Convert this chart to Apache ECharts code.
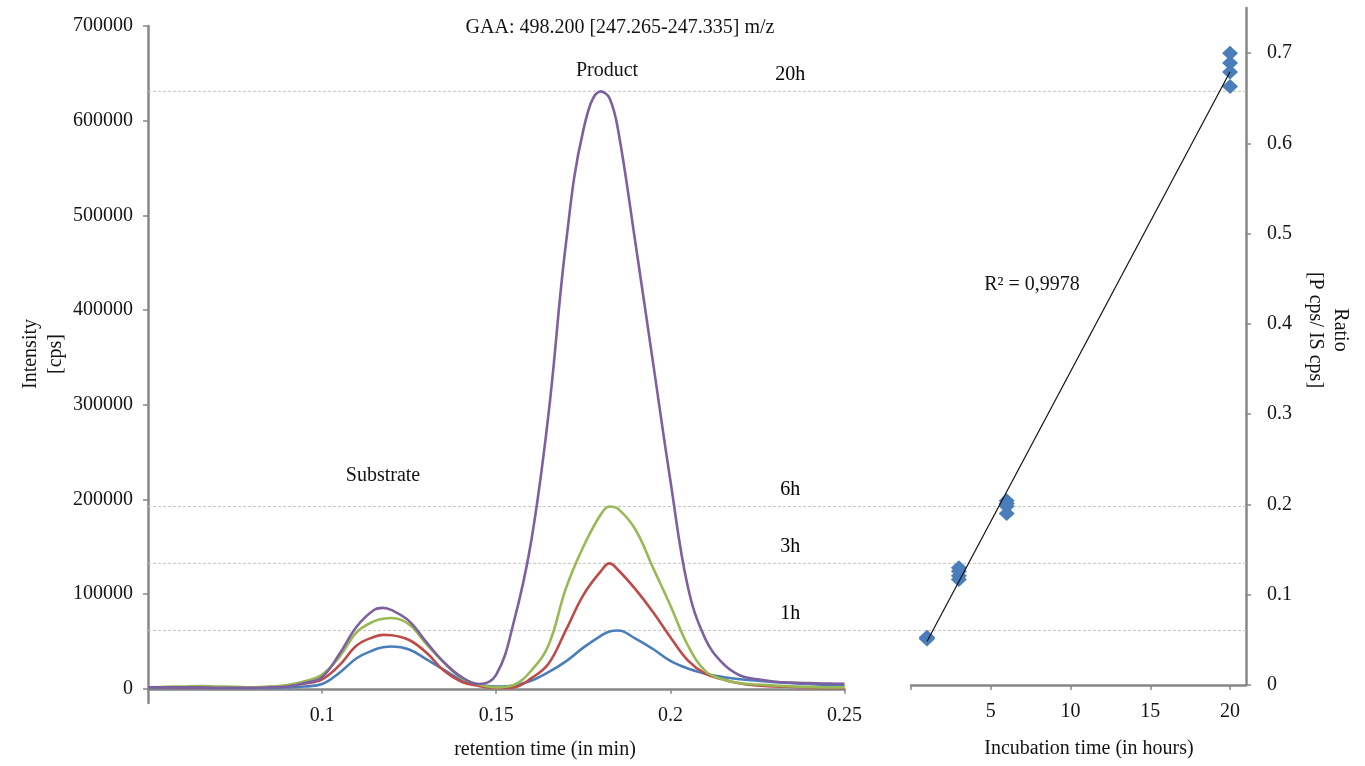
<!DOCTYPE html>
<html><head><meta charset="utf-8">
<script src="https://cdn.jsdelivr.net/npm/echarts@6/dist/echarts.min.js"></script>
<style>html,body{margin:0;padding:0;background:#fff}#c{width:1365px;height:766px}</style>
</head><body><div id="c"></div>
<script>
// ---- Chromatogram data (retention time in min, intensity in cps) ----
const retentionTime = [0.05,0.055,0.06,0.065,0.07,0.075,0.08,0.085,0.09,0.095,0.1,0.105,0.11,0.115,0.1175,0.12,0.125,0.13,0.135,0.14,0.145,0.15,0.155,0.16,0.165,0.17,0.175,0.18,0.1825,0.185,0.19,0.195,0.2,0.205,0.21,0.215,0.22,0.225,0.23,0.235,0.24,0.245,0.25];
const intensity1h  = [1000,1000,1000,1000,1000,1000,1000,1000,1500,2500,5000,17000,32500,41200,43800,44600,41500,31000,20000,9500,4500,2500,3500,8500,17500,29000,43500,56000,60500,61500,53000,42000,29500,21500,16000,12500,10000,8500,7000,6000,5000,4000,3500];
const intensity3h  = [1500,1500,1500,1500,1500,1500,1500,2000,3000,5500,10000,25000,46000,55000,57000,56500,51500,38000,19000,7500,3000,1000,1500,11000,26500,62000,99000,124000,132500,125500,105000,81000,54500,30000,16000,10000,5500,3500,2500,2000,1500,1000,1000];
const intensity6h  = [1500,2000,2500,3000,2500,2000,1500,2000,4000,8000,15000,34000,60000,71500,74000,74700,68000,47000,27500,11500,4500,1500,4000,19000,46000,106000,150000,184000,192500,190000,168000,128000,88000,46000,19000,10000,6000,4500,3500,2500,2000,1500,1500];
const intensity20h = [1500,1500,1500,1500,1000,1000,1000,1500,2500,6000,12500,37000,66000,83500,85500,83000,71500,49000,28000,12500,5000,15000,70000,155000,290000,470000,590000,631000,624000,590000,470000,345000,220000,108000,53000,27000,14000,10000,7500,6500,6000,5500,5300];
const curveNames = ['1h','3h','6h','20h'];
const leftXTicks = [0.1,0.15,0.2,0.25];
const leftYTicks = [0,100000,200000,300000,400000,500000,600000,700000];

// ---- Ratio vs incubation time ----
const incubationHours = [1,1,1,1,3,3,3,3,6,6,6,6,20,20,20,20];
const ratioValues     = [0.052,0.053,0.051,0.052,0.130,0.126,0.121,0.117,0.204,0.201,0.198,0.190,0.700,0.689,0.679,0.663];
const rightXTicks = [0,5,10,15,20];
const rightXLabels = [5,10,15,20];
const rightYTicks = [0,0.1,0.2,0.3,0.4,0.5,0.6,0.7];
const rSquaredText = 'R² = 0,9978';

const FONT = 'Liberation Serif';
const TXT = '#141414';
const AX = '#878787';
const colors = ['#4A7EBB','#BE4B48','#98B954','#7D60A0'];
const curves = [intensity1h, intensity3h, intensity6h, intensity20h];

// least squares trend line
const n = incubationHours.length;
const mx = incubationHours.reduce((a,b)=>a+b,0)/n;
const my = ratioValues.reduce((a,b)=>a+b,0)/n;
let sxy=0, sxx=0;
for (let i=0;i<n;i++){ sxy += (incubationHours[i]-mx)*(ratioValues[i]-my); sxx += (incubationHours[i]-mx)**2; }
const slope = sxy/sxx, icpt = my - slope*mx;
const xMin = Math.min(...incubationHours), xMax = Math.max(...incubationHours);

const peaks = curves.map(c => Math.max(...c));

const axisLabelStyle = {fontFamily: FONT, fontSize: 20, color: TXT};

const series = [];
// reference dashed lines at each peak height (overlay grid)
curves.forEach((c, i) => {
  series.push({
    type: 'line', xAxisIndex: 2, yAxisIndex: 2, silent: true, symbol: 'none', z: 1,
    data: [[0, peaks[i]], [1, peaks[i]]],
    lineStyle: {color: '#c4c4c4', width: 1, type: [3, 2]}
  });
  series.push({
    type: 'scatter', xAxisIndex: 2, yAxisIndex: 2, silent: true, symbolSize: 1, z: 5,
    itemStyle: {color: 'rgba(0,0,0,0)', opacity: 1},
    data: [[0.585, peaks[i]]],
    label: {show: true, position: 'top', distance: 6, formatter: curveNames[i], fontFamily: FONT, fontSize: 20, color: '#000', opacity: 1}
  });
});
curves.forEach((c, i) => {
  series.push({
    type: 'line', xAxisIndex: 0, yAxisIndex: 0, name: curveNames[i], symbol: 'none', smooth: 0.4, z: 3 + i,
    data: retentionTime.map((t, k) => [t, c[k]]),
    lineStyle: {color: colors[i], width: 2.6}
  });
});
series.push({
  type: 'line', xAxisIndex: 1, yAxisIndex: 1, symbol: 'none', z: 6,
  data: [[xMin, icpt + slope*xMin], [xMax, icpt + slope*xMax]],
  lineStyle: {color: '#111', width: 1.2}
});
series.push({
  type: 'scatter', xAxisIndex: 1, yAxisIndex: 1, symbol: 'diamond', symbolSize: [16, 15], z: 5,
  data: incubationHours.map((h, i) => [h, ratioValues[i]]),
  itemStyle: {color: '#4A7EBB', opacity: 1}
});

function txt(text, x, y, rot, extra) {
  return Object.assign({
    type: 'text', x: x, y: y, rotation: rot || 0, z: 100,
    style: {text: text, fill: TXT, font: '20px "' + FONT + '"', textAlign: 'center', align: 'center', textVerticalAlign: 'middle', verticalAlign: 'middle', lineHeight: 25}
  }, extra || {});
}

const plain = v => String(v);

const option = {
  animation: false,
  backgroundColor: '#fff',
  grid: [
    {left: 148, right: 520.5, top: 26, bottom: 63},
    {left: 911, right: 119, top: 8, bottom: 81},
    {left: 148, right: 119, top: 26, bottom: 63}
  ],
  xAxis: [
    {gridIndex: 0, type: 'value', min: 0.05, max: 0.25,
     axisLine: {onZero: true, lineStyle: {color: AX, width: 2.5}},
     axisTick: {customValues: leftXTicks, length: 5, lineStyle: {color: AX, width: 1.5}},
     axisLabel: Object.assign({customValues: leftXTicks, margin: 3, formatter: plain}, axisLabelStyle),
     splitLine: {show: false}},
    {gridIndex: 1, type: 'value', min: 0, max: 21,
     axisLine: {lineStyle: {color: AX, width: 2.5}},
     axisTick: {customValues: rightXTicks, length: 5, lineStyle: {color: AX, width: 1.5}},
     axisLabel: Object.assign({customValues: rightXLabels, margin: 17, formatter: plain}, axisLabelStyle),
     splitLine: {show: false}},
    {gridIndex: 2, type: 'value', min: 0, max: 1, show: false}
  ],
  yAxis: [
    {gridIndex: 0, type: 'value', min: -15000, max: 700000,
     axisLine: {show: true, onZero: false, lineStyle: {color: AX, width: 2.5}},
     axisTick: {show: true, customValues: leftYTicks, length: 5, lineStyle: {color: AX, width: 1.5}},
     axisLabel: Object.assign({customValues: leftYTicks, margin: 15, formatter: plain}, axisLabelStyle),
     splitLine: {show: false}},
    {gridIndex: 1, type: 'value', position: 'right', min: 0, max: 0.75,
     axisLine: {show: true, onZero: false, lineStyle: {color: AX, width: 2.5}},
     axisTick: {show: true, customValues: rightYTicks, length: 5, lineStyle: {color: AX, width: 1.5}},
     axisLabel: Object.assign({customValues: rightYTicks, margin: 21, formatter: plain}, axisLabelStyle),
     splitLine: {show: false}},
    {gridIndex: 2, type: 'value', min: -15000, max: 700000, show: false}
  ],
  graphic: [
    txt('GAA: 498.200 [247.265-247.335] m/z', 620, 28),
    txt('Product', 607, 71),
    txt('Substrate', 383, 476),
    txt(rSquaredText, 1032, 285),
    txt('retention time (in min)', 545, 750),
    txt('Incubation time (in hours)', 1089, 749),
    txt('Intensity\n[cps]', 43, 354, Math.PI/2),
    txt('Ratio\n[P cps/ IS cps]', 1328, 330, -Math.PI/2)
  ],
  series: series
};

const chart = echarts.init(document.getElementById('c'), null, {renderer: 'canvas'});
chart.setOption(option);
</script>
</body></html>
